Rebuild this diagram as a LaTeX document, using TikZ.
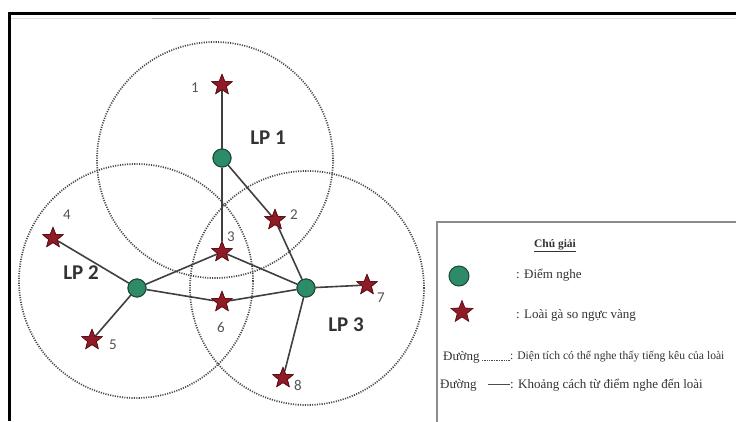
\documentclass[tikz,border=0pt]{standalone}
\usepackage{fontspec}
\setmainfont{Liberation Serif}
\newfontfamily\lpfont{Carlito}
\usetikzlibrary{shapes.geometric}
\definecolor{nodegreen}{HTML}{2E8B67}
\definecolor{nodedark}{HTML}{1B4A38}
\definecolor{starred}{HTML}{8E1B26}
\definecolor{stardark}{HTML}{5A0E14}
\definecolor{linegray}{HTML}{404040}
\definecolor{numgray}{HTML}{555555}
\tikzset{
  lpnode/.style={circle, minimum size=18pt, inner sep=0pt, fill=nodegreen, draw=nodedark, line width=1pt},
  birdstar/.style={star, star points=5, star point ratio=2.3, minimum size=21pt, inner sep=0pt, fill=starred, draw=stardark, line width=0.7pt},
  link/.style={draw=linegray, line width=1.6pt},
  hearring/.style={draw=black!72, line width=1.7pt, dash pattern=on 1.1pt off 1.3pt},
  numlabel/.style={font=\lpfont\fontsize{15}{15}\selectfont, text=numgray, inner sep=0pt},
  lplabel/.style={font=\lpfont\bfseries\fontsize{21}{21}\selectfont, text=black!80, inner sep=0pt},
  legtext/.style={font=\fontsize{13}{13}\selectfont, anchor=west, inner sep=0pt, text=black!80}
}
\begin{document}
\begin{tikzpicture}[x=1pt,y=-1pt]
\useasboundingbox (0,0) rectangle (736,421);
\fill[white] (0,0) rectangle (736,421);
% frame
\draw[black, line width=3pt] (9,421) -- (9,13) -- (736,13);
\draw[black!12, line width=1pt] (11,18) -- (736,18);
\draw[black!30, line width=1pt] (152,18) -- (210,18);
% legend box
\draw[black!45, line width=1.5pt] (437,430) -- (437,222) -- (740,222);
% range circles
\draw[hearring] (215,160) circle (118);
\draw[hearring] (136,281) circle (117);
\draw[hearring] (307,288) circle (117);
% nodes
\node[lpnode] (lp1) at (222,158) {};
\node[lpnode] (lp2) at (137,288) {};
\node[lpnode] (lp3) at (306,288) {};
\node[birdstar] (s1) at (222,85) {};
\node[birdstar] (s2) at (275,220) {};
\node[birdstar] (s3) at (222,252) {};
\node[birdstar] (s4) at (53,238) {};
\node[birdstar] (s5) at (92,340) {};
\node[birdstar] (s6) at (222,302) {};
\node[birdstar] (s7) at (367,285) {};
\node[birdstar] (s8) at (283,378) {};
% links
\begin{scope}[every path/.style={link}]
\draw (lp1) -- (s1);
\draw (lp1) -- (s3);
\draw (lp1) -- (s2);
\draw (s2) -- (lp3);
\draw (lp2) -- (s4);
\draw (lp2) -- (s5);
\draw (lp2) -- (s3);
\draw (lp2) -- (s6);
\draw (s3) -- (lp3);
\draw (s6) -- (lp3);
\draw (lp3) -- (s7);
\draw (lp3) -- (s8);
\end{scope}
% redraw nodes on top
\node[lpnode] at (lp1) {};
\node[lpnode] at (lp2) {};
\node[lpnode] at (lp3) {};
\foreach \s in {s1,s2,s3,s4,s5,s6,s7,s8} \node[birdstar] at (\s) {};
% number labels
\node[numlabel] (n1) at (195,88) {1};
\node[numlabel] (n2) at (294,215) {2};
\node[numlabel] (n3) at (231,237) {3};
\node[numlabel] (n4) at (67,215) {4};
\node[numlabel] (n5) at (113,345) {5};
\node[numlabel] (n6) at (221,327) {6};
\node[numlabel] (n7) at (381,298) {7};
\node[numlabel] (n8) at (298,385) {8};
% LP labels
\node[lplabel] (t1) at (268,138) {LP 1};
\node[lplabel] (t2) at (81,273) {LP 2};
\node[lplabel] (t3) at (346,325) {LP 3};
% legend
\node[font=\bfseries\fontsize{11.5}{11.5}\selectfont, inner sep=0pt, text=black!80] (lt) at (555,246) {\underline{Chú giải}};
\node[lpnode, minimum size=20pt] (lg1) at (459,276) {};
\node[legtext] (lx1) at (516,275) {: Điểm nghe};
\node[birdstar, minimum size=23pt] (lg2) at (462,312) {};
\node[legtext] (lx2) at (516,315) {: Loài gà so ngực vàng};
\node[legtext] (lx3a) at (443,357) {Đường};
\coordinate (d1) at (482,360);
\coordinate (d2) at (510,360);
\draw[black!70, line width=0.7pt, dash pattern=on 0.7pt off 1pt] (d1) -- (d2);
\node[legtext, font=\fontsize{11.6}{11.6}\selectfont] (lx3) at (510,357) {: Diện tích có thể nghe thấy tiếng kêu của loài};
\node[legtext] (lx4a) at (440,385) {Đường};
\coordinate (e1) at (488,384);
\coordinate (e2) at (510,384);
\draw[black!70, line width=0.8pt] (e1) -- (e2);
\node[legtext] (lx4) at (510,385) {: Khoảng cách từ điểm nghe đến loài};
\end{tikzpicture}
\end{document}
